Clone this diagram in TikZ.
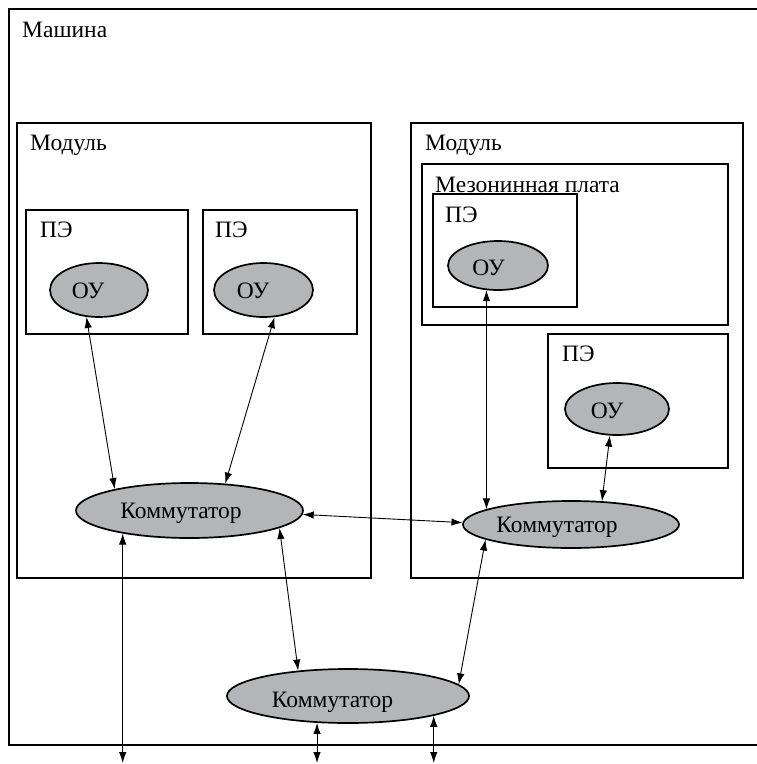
\documentclass[tikz,border=0pt]{standalone}
\usepackage{fontspec}
\setmainfont{Liberation Serif}
\usetikzlibrary{shapes.geometric,arrows.meta,calc}
\definecolor{ougray}{RGB}{180,181,183}
\begin{document}
\begin{tikzpicture}[x=1pt,y=-1pt,
  box/.style={draw, line width=1.9pt, rectangle, inner sep=0pt, anchor=north west},
  unit/.style={draw, line width=1.7pt, ellipse, fill=ougray, inner sep=0pt},
  lbl/.style={anchor=base west, inner sep=0pt},
  ctext/.style={anchor=base, inner sep=0pt},
  link/.style={line width=0.9pt, {Latex[length=11pt,width=7.5pt]}-{Latex[length=11pt,width=7.5pt]}},
  font=\fontsize{23.5}{27}\selectfont]
\useasboundingbox (0,0) rectangle (757,764);
\clip (0,0) rectangle (757,764);
% machine frame
\node[box, minimum width=800pt, minimum height=736pt] (machine) at (8,8) {};
\node[lbl] (machinet) at (22,37) {Машина};
% modules
\node[box, minimum width=354pt, minimum height=455pt] (modL) at (16,122) {};
\node[lbl] (modLt) at (30,150) {Модуль};
\node[box, minimum width=332pt, minimum height=455pt] (modR) at (410,122) {};
\node[lbl] (modRt) at (425,150) {Модуль};
% PEs in left module
\node[box, minimum width=162pt, minimum height=124pt] (pe1) at (25,209) {};
\node[lbl] (pe1t) at (40,237) {ПЭ};
\node[box, minimum width=154pt, minimum height=124pt] (pe2) at (202,209) {};
\node[lbl] (pe2t) at (215,237) {ПЭ};
% mezzanine
\node[box, minimum width=306pt, minimum height=161pt] (mezz) at (421,163) {};
\node[box, minimum width=144pt, minimum height=113pt] (pe3) at (432,193) {};
\node[lbl] (mezzt) at (435,192) {Мезонинная плата};
\node[lbl] (pe3t) at (445,222) {ПЭ};
\node[box, minimum width=180pt, minimum height=134pt] (pe4) at (547,333) {};
\node[lbl] (pe4t) at (562,361) {ПЭ};
% functional units
\node[unit, minimum width=98pt, minimum height=54pt] (ou1) at (99,290) {};
\node[ctext] (ou1t) at ($(ou1.center)+(-11,8)$) {ОУ};
\node[unit, minimum width=99pt, minimum height=54pt] (ou2) at (263.5,290) {};
\node[ctext] (ou2t) at ($(ou2.center)+(-10.5,8)$) {ОУ};
\node[unit, minimum width=100pt, minimum height=49pt] (ou3) at (498,265.5) {};
\node[ctext] (ou3t) at ($(ou3.center)+(-9.5,9.5)$) {ОУ};
\node[unit, minimum width=104pt, minimum height=52pt] (ou4) at (617,409) {};
\node[ctext] (ou4t) at ($(ou4.center)+(-10,9)$) {ОУ};
% switches
\node[unit, minimum width=227pt, minimum height=55pt] (k1) at (189.5,510.5) {};
\node[ctext] (k1t) at ($(k1.center)+(-8.5,7.5)$) {Коммутатор};
\node[unit, minimum width=216pt, minimum height=47pt] (k2) at (571,524.5) {};
\node[ctext] (k2t) at ($(k2.center)+(-14,7.5)$) {Коммутатор};
\node[unit, minimum width=242pt, minimum height=54pt] (k3) at (348,696) {};
\node[ctext] (k3t) at ($(k3.center)+(-15.5,11)$) {Коммутатор};
% bottom level for free ends
\coordinate (bot) at (0,763);
% links
\draw[link] (ou1.245) -- (k1.164);
\draw[link] (ou2.292) -- (k1.37);
\draw[link] (ou3.245) -- (ou3.245 |- k2.170);
\draw[link] (ou4.255) -- (k2.37);
\draw[link] (k1.358) -- (k2.179);
\draw[link] (k1.349) -- (k3.153);
\draw[link] (k2.190) -- (k3.6);
\draw[link] (k1.199) -- (k1.199 |- bot);
\draw[link] (k3.221) -- (k3.221 |- bot);
\draw[link] (k3.347) -- (k3.347 |- bot);
\end{tikzpicture}
\end{document}
